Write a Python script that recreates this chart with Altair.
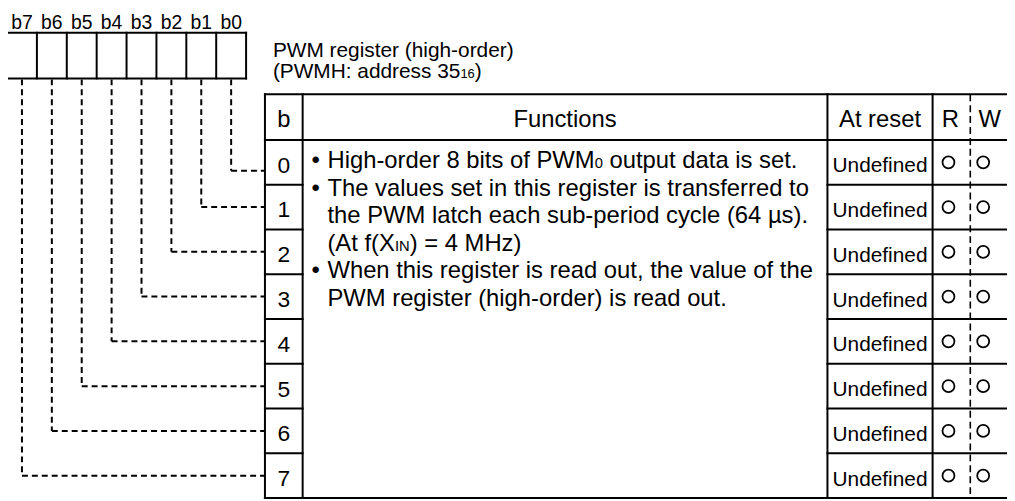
import altair as alt
import pandas as pd

# ---------------- data ----------------
bit_labels = ["b7", "b6", "b5", "b4", "b3", "b2", "b1", "b0"]
bit_numbers = ["0", "1", "2", "3", "4", "5", "6", "7"]
headers = ["b", "Functions", "At reset", "R", "W"]
reset_values = ["Undefined"] * 8
read_access = ["O"] * 8
write_access = ["O"] * 8
title_lines = [
    [("PWM register (high-order)", 0)],
    [("(PWMH: address 35", 0), ("16", 1), (")", 0)],
]
function_lines = [
    [("High-order 8 bits of PWM", 0), ("0", 1), (" output data is set.", 0)],
    [("The values set in this register is transferred to", 0)],
    [("the PWM latch each sub-period cycle (64 \u00b5s).", 0)],
    [("(At f(X", 0), ("IN", 1), (") = 4 MHz)", 0)],
    [("When this register is read out, the value of the", 0)],
    [("PWM register (high-order) is read out.", 0)],
]
function_bullets = [True, True, False, False, True, False]

# ---------------- layout (pixel space of the page) ----------------
FONT = "Liberation Sans"
BOX_L, BOX_T, BOX_B, BOX_W = 7, 31, 77, 30.125
TAB_L, TAB_T, HEAD_B, ROW_H = 267, 93, 139, 45.125
TAB_R = 1015
COLS = [267, 305, 834, 940, 978, 1015]
LEADER0_DY = 8.5
FUNC_X, BULLET_X, FUNC_Y0, FUNC_LH, FUNC_FS = 330, 314, 167.5, 27.7, 24
TITLE_X, TITLE_Y0, TITLE_LH, TITLE_FS = 275, 55, 21.5, 21
SUB_RATIO = 0.62

W = {' ': 278, '!': 278, '(': 333, ')': 333, '-': 333, '.': 278, ',': 278, ':': 278, '=': 584, '\u00b5': 576}
for c in "0123456789":
    W[c] = 556
W.update(dict(zip("ABCDEFGHIJKLMNOPQRSTUVWXYZ",
                  [667, 667, 722, 722, 667, 611, 778, 722, 278, 500, 667, 556, 833, 722, 778, 667, 778, 722, 667, 611, 722, 667, 944, 667, 667, 611])))
W.update(dict(zip("abcdefghijklmnopqrstuvwxyz",
                  [556, 556, 500, 556, 556, 278, 556, 556, 222, 222, 500, 222, 833, 556, 556, 556, 556, 333, 500, 278, 556, 500, 722, 500, 500, 500])))


def tw(s, size):
    return sum(W.get(ch, 556) for ch in s) / 1000.0 * size


def segments(parts, x0, y, fs):
    out = []
    x = x0
    for txt, sub in parts:
        size = fs * SUB_RATIO if sub else fs
        stripped = txt.lstrip(" ")
        lead = tw(txt[: len(txt) - len(stripped)], size)
        out.append({"x": x + lead, "y": y, "text": stripped, "size": size})
        x += tw(txt, size)
    return out


row_top = [HEAD_B + ROW_H * i for i in range(9)]
row_mid = [HEAD_B + ROW_H * (i + 0.5) for i in range(8)]

# solid lines
solid = []
solid.append({"x": BOX_L, "y": BOX_T, "x2": BOX_L + 8 * BOX_W, "y2": BOX_T})
solid.append({"x": BOX_L, "y": BOX_B, "x2": BOX_L + 8 * BOX_W, "y2": BOX_B})
for k in range(9):
    xx = BOX_L + k * BOX_W
    solid.append({"x": xx, "y": BOX_T, "x2": xx, "y2": BOX_B})
solid.append({"x": TAB_L, "y": TAB_T, "x2": TAB_R, "y2": TAB_T})
solid.append({"x": TAB_L, "y": HEAD_B, "x2": TAB_R, "y2": HEAD_B})
for i in range(1, 9):
    yy = row_top[i]
    solid.append({"x": COLS[0], "y": yy, "x2": COLS[1], "y2": yy})
    solid.append({"x": COLS[2], "y": yy, "x2": TAB_R, "y2": yy})
solid.append({"x": TAB_L, "y": row_top[8], "x2": TAB_R, "y2": row_top[8]})
for xx in COLS[:4]:
    solid.append({"x": xx, "y": TAB_T, "x2": xx, "y2": row_top[8]})
df_solid = pd.DataFrame(solid)

# dashed leaders
dashed = []
for i, lab in enumerate(bit_labels):
    bit = 7 - i
    bx = BOX_L + (i + 0.5) * BOX_W
    ly = row_mid[bit] + (LEADER0_DY if bit == 0 else 0)
    dashed.append({"x": bx, "y": BOX_B + 1, "x2": bx, "y2": ly})
    dashed.append({"x": bx, "y": ly, "x2": TAB_L, "y2": ly})
df_dashed = pd.DataFrame(dashed)
df_sep = pd.DataFrame([{"x": COLS[4], "y": TAB_T, "x2": COLS[4], "y2": row_top[8]}])

# texts
left_txt = []
for j, parts in enumerate(title_lines):
    left_txt += segments(parts, TITLE_X, TITLE_Y0 + j * TITLE_LH, TITLE_FS)
for j, parts in enumerate(function_lines):
    y = FUNC_Y0 + j * FUNC_LH
    if function_bullets[j]:
        left_txt.append({"x": BULLET_X, "y": y, "text": "\u2022", "size": FUNC_FS})
    left_txt += segments(parts, FUNC_X, y, FUNC_FS)
df_left = pd.DataFrame(left_txt)

center_txt = []
for i, lab in enumerate(bit_labels):
    center_txt.append({"x": BOX_L + (i + 0.5) * BOX_W, "y": 27, "text": lab, "size": 19.5})
head_y = HEAD_B - 13
for k, h in enumerate(headers):
    center_txt.append({"x": (COLS[k] + COLS[k + 1]) / 2 + (1 if k == 4 else -1 if k == 3 else 0),
                       "y": head_y, "text": h, "size": 24})
for i in range(8):
    center_txt.append({"x": (COLS[0] + COLS[1]) / 2, "y": row_mid[i] + 10.5, "text": bit_numbers[i], "size": 23})
    center_txt.append({"x": (COLS[2] + COLS[3]) / 2, "y": row_mid[i] + 10, "text": reset_values[i], "size": 21})
df_center = pd.DataFrame(center_txt)

circ = []
for i in range(8):
    if read_access[i] == "O":
        circ.append({"x": (COLS[3] + COLS[4]) / 2 - 3, "y": row_mid[i]})
    if write_access[i] == "O":
        circ.append({"x": (COLS[4] + COLS[5]) / 2 - 5.5, "y": row_mid[i]})
df_circ = pd.DataFrame(circ)

# ---------------- chart ----------------
xs = alt.Scale(domain=[8, 1015], nice=False, zero=False)
ys = alt.Scale(domain=[8, 501], nice=False, zero=False, reverse=True)
X = alt.X("x:Q", scale=xs, axis=None)
Y = alt.Y("y:Q", scale=ys, axis=None)

solid_layer = alt.Chart(df_solid).mark_rule(color="black", strokeWidth=2, strokeCap="square").encode(
    x=X, y=Y, x2="x2:Q", y2="y2:Q")
dash_layer = alt.Chart(df_dashed).mark_rule(color="black", strokeWidth=2, strokeDash=[6, 4]).encode(
    x=X, y=Y, x2="x2:Q", y2="y2:Q")
sep_layer = alt.Chart(df_sep).mark_rule(color="black", strokeWidth=1.6, strokeDash=[7, 4]).encode(
    x=X, y=Y, x2="x2:Q", y2="y2:Q")
left_layer = alt.Chart(df_left).mark_text(align="left", baseline="alphabetic", font=FONT, color="black").encode(
    x=X, y=Y, text="text:N", size=alt.Size("size:Q", scale=None, legend=None))
center_layer = alt.Chart(df_center).mark_text(align="center", baseline="alphabetic", font=FONT, color="black").encode(
    x=X, y=Y, text="text:N", size=alt.Size("size:Q", scale=None, legend=None))
circ_layer = alt.Chart(df_circ).mark_point(shape="circle", filled=False, size=145, strokeWidth=1.8,
                                            color="black", opacity=1).encode(x=X, y=Y)

chart = alt.layer(solid_layer, dash_layer, sep_layer, left_layer, center_layer, circ_layer).properties(
    width=1007, height=493, padding=0, autosize=alt.AutoSizeParams(type="none"), background="white"
).configure_view(stroke=None)

chart.save("out.html", embed_options={"renderer": "svg", "actions": False})
